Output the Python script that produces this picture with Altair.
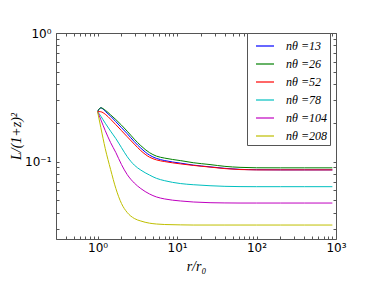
import altair as alt
import pandas as pd

# radius r/r0 sample points
r = [1.0, 1.1, 1.25, 1.46, 1.7, 2.0, 2.36, 2.9, 3.5, 4.5, 5.5, 7, 11, 16, 26, 40, 62, 100, 200, 400, 900]

series_n = [13, 26, 52, 78, 104, 208]
colors = ["#0000ff", "#008000", "#ff0000", "#00bfbf", "#bf00bf", "#bfbf00"]

L13 = [0.245, 0.262, 0.246, 0.2253, 0.2042, 0.1835, 0.1649, 0.1429, 0.1273, 0.1123, 0.1059, 0.1018, 0.0973, 0.0939, 0.091, 0.0886, 0.087, 0.0864, 0.0862, 0.0862, 0.0862]
L26 = [0.245, 0.262, 0.251, 0.231, 0.212, 0.192, 0.1723, 0.1494, 0.133, 0.1174, 0.1103, 0.1064, 0.1018, 0.098, 0.0948, 0.0918, 0.0902, 0.0895, 0.0894, 0.0894, 0.0894]
L52 = [0.245, 0.244, 0.2335, 0.2135, 0.1936, 0.174, 0.1562, 0.1367, 0.1217, 0.1083, 0.1031, 0.1, 0.096, 0.0934, 0.0906, 0.0882, 0.0867, 0.0862, 0.0862, 0.0862, 0.0862]
L78 = [0.245, 0.2253, 0.1988, 0.1723, 0.1508, 0.1284, 0.1093, 0.0939, 0.0859, 0.0786, 0.0741, 0.071, 0.0675, 0.0661, 0.0649, 0.0642, 0.0639, 0.0638, 0.0638, 0.0638, 0.0638]
L104 = [0.245, 0.2116, 0.1739, 0.1404, 0.1174, 0.0948, 0.0793, 0.0681, 0.0617, 0.056, 0.0531, 0.0512, 0.0494, 0.0485, 0.0479, 0.0477, 0.0476, 0.0476, 0.0476, 0.0476, 0.0476]
L208 = [0.245, 0.1835, 0.1261, 0.0867, 0.0617, 0.0472, 0.0402, 0.0361, 0.0345, 0.0332, 0.0327, 0.0324, 0.0322, 0.0321, 0.0321, 0.0321, 0.0321, 0.0321, 0.0321, 0.0321, 0.0321]

x_major = [1, 10, 100, 1000]
x_minor = [0.3, 0.4, 0.5, 0.6, 0.7, 0.8, 0.9,
           2, 3, 4, 5, 6, 7, 8, 9,
           20, 30, 40, 50, 60, 70, 80, 90,
           200, 300, 400, 500, 600, 700, 800, 900]
y_major = [0.1, 1]
y_minor = [0.03, 0.04, 0.05, 0.06, 0.07, 0.08, 0.09,
           0.2, 0.3, 0.4, 0.5, 0.6, 0.7, 0.8, 0.9]

rows = []
for n, ys in zip(series_n, [L13, L26, L52, L78, L104, L208]):
    for xv, yv in zip(r, ys):
        rows.append({"r": xv, "L": yv, "n": n})
df = pd.DataFrame(rows)

x_ticks = sorted(x_major + x_minor)
y_ticks = sorted(y_major + y_minor)

x_label_expr = ("datum.value == 1 ? '10⁰' : datum.value == 10 ? '10¹' : "
                "datum.value == 100 ? '10²' : datum.value == 1000 ? '10³' : ''")
y_label_expr = "datum.value == 1 ? '10⁰' : datum.value == 0.1 ? '10⁻¹' : ''"

xscale = alt.Scale(type="log", domain=[0.3, 1000], nice=False)
yscale = alt.Scale(type="log", domain=[0.025, 1], nice=False)

axis_common = dict(offset=-3, tickSize=3, domain=False, grid=False,
                   tickColor="#555", labelFlush=False, labelOverlap=False,
                   labelFont="DejaVu Sans", labelFontSize=12, labelColor="black",
                   titleFont="Liberation Serif", titleFontStyle="italic",
                   titleFontSize=14, titleFontWeight="normal", titleColor="black")

lines = alt.Chart(df).mark_line(strokeWidth=1, clip=True, interpolate="monotone").encode(
    x=alt.X("r:Q", scale=xscale,
            axis=alt.Axis(orient="bottom", values=x_ticks, labelExpr=x_label_expr,
                          title="r/r₀", labelPadding=3, titlePadding=6, **axis_common)),
    y=alt.Y("L:Q", scale=yscale,
            axis=alt.Axis(orient="left", values=y_ticks, labelExpr=y_label_expr,
                          title="L/(1+z)²", labelPadding=5, titlePadding=1, **axis_common)),
    color=alt.Color("n:N", scale=alt.Scale(domain=series_n, range=colors),
                    legend=alt.Legend(orient="none", legendX=191, legendY=0, title=None,
                                      symbolType="stroke", symbolSize=324,
                                      symbolStrokeWidth=1.2,
                                      labelExpr="'nθ =' + datum.label",
                                      labelFont="Liberation Serif", labelFontSize=12,
                                      labelFontStyle="italic", labelColor="black",
                                      padding=3, rowPadding=2, labelOffset=11,
                                      symbolOffset=5, strokeColor="#555",
                                      fillColor="white", cornerRadius=0)),
)

frame = alt.Chart(df).mark_line(opacity=0).encode(
    x=alt.X("r:Q", scale=xscale,
            axis=alt.Axis(orient="top", values=x_ticks, labels=False, title=None,
                          offset=-3, tickSize=3, domain=False, grid=False, tickColor="#555")),
    y=alt.Y("L:Q", scale=yscale,
            axis=alt.Axis(orient="right", values=y_ticks, labels=False, title=None,
                          offset=-3, tickSize=3, domain=False, grid=False, tickColor="#555")),
)

chart = alt.layer(lines, frame).resolve_axis(
    x="independent", y="independent"
).properties(
    width=280, height=206,
    autosize=alt.AutoSizeParams(type="none"),
    padding={"left": 48, "top": 25, "right": 30, "bottom": 35},
    background="white",
).configure_view(stroke="#555", strokeWidth=1)

chart.save("out.html", embed_options={"renderer": "svg", "actions": False})
